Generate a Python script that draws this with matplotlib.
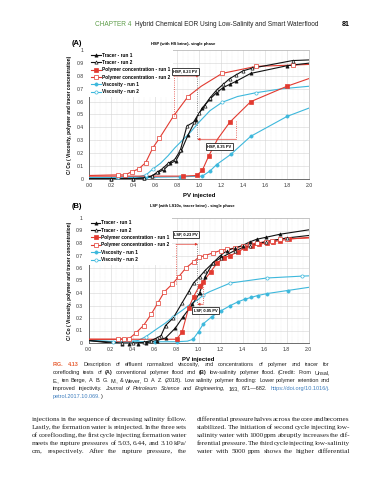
import matplotlib
matplotlib.use("Agg")
import matplotlib.pyplot as plt
from matplotlib.lines import Line2D
from matplotlib.ticker import MultipleLocator, FuncFormatter

plt.rcParams['font.family'] = ['Liberation Sans', 'DejaVu Sans']

labels = ['Tracer - run 1', 'Tracer - run 2',
          'Polymer concentration - run 1', 'Polymer concentration - run 2',
          'Viscosity - run 1', 'Viscosity - run 2']

# ---- (A) HSP (with HS brine) ----
tracer1_a_x = [0, 0.2, 0.4, 0.5, 0.57, 0.63, 0.68, 0.74, 0.79, 0.84, 0.90, 0.97, 1.03, 1.10, 1.16, 1.22, 1.28, 1.34, 1.47, 1.80, 2.0]
tracer1_a_y = [0, 0, 0, 0.005, 0.02, 0.05, 0.07, 0.12, 0.14, 0.22, 0.34, 0.46, 0.55, 0.62, 0.67, 0.71, 0.735, 0.76, 0.82, 0.88, 0.90]
tracer2_a_x = [0, 0.2, 0.4, 0.5, 0.57, 0.62, 0.67, 0.72, 0.78, 0.83, 0.89, 0.95, 1.0, 1.05, 1.10, 1.16, 1.22, 1.28, 1.34, 1.40, 1.48, 1.85, 2.0]
tracer2_a_y = [0, 0, 0, 0.005, 0.02, 0.05, 0.08, 0.12, 0.15, 0.22, 0.41, 0.44, 0.51, 0.57, 0.63, 0.69, 0.735, 0.78, 0.81, 0.84, 0.86, 0.92, 0.925]
polymer1_a_x = [0, 0.25, 0.5, 0.85, 0.98, 1.03, 1.09, 1.17, 1.28, 1.47, 1.80, 2.0]
polymer1_a_y = [0.02, 0.02, 0.02, 0.02, 0.025, 0.065, 0.18, 0.31, 0.44, 0.60, 0.72, 0.78]
polymer2_a_x = [0, 0.26, 0.33, 0.39, 0.45, 0.515, 0.58, 0.64, 0.77, 0.90, 1.02, 1.21, 1.52, 1.85, 2.0]
polymer2_a_y = [0.025, 0.03, 0.03, 0.055, 0.075, 0.125, 0.24, 0.315, 0.49, 0.64, 0.72, 0.82, 0.875, 0.885, 0.89]
visc1_a_x = [0, 0.25, 0.52, 0.83, 1.03, 1.10, 1.16, 1.29, 1.47, 1.80, 2.0]
visc1_a_y = [0.01, 0.01, 0.01, 0.015, 0.02, 0.06, 0.11, 0.19, 0.33, 0.485, 0.55]
visc2_a_x = [0, 0.26, 0.45, 0.52, 0.58, 0.65, 0.72, 0.78, 0.85, 0.92, 1.0, 1.1, 1.21, 1.35, 1.52, 1.75, 2.0]
visc2_a_y = [0.005, 0.01, 0.015, 0.03, 0.075, 0.12, 0.18, 0.24, 0.30, 0.36, 0.44, 0.53, 0.595, 0.64, 0.67, 0.70, 0.72]
marks_a = [range(1, 20), range(1, 22), [3, 4, 5, 6, 8, 9, 10],
           [1, 2, 3, 4, 5, 6, 7, 8, 9, 11, 12, 13], range(1, 10), [1, 3, 4, 12, 14]]

# ---- (B) LSP (with LS10x, tracer brine) ----
tracer1_b_x = [0, 0.3, 0.37, 0.45, 0.52, 0.62, 0.70, 0.79, 0.86, 0.945, 1.01, 1.06, 1.13, 1.2, 1.26, 1.33, 1.40, 1.47, 1.53, 1.61, 1.74, 2.0]
tracer1_b_y = [0.02, -0.01, -0.01, -0.01, 0.0, 0.02, 0.04, 0.12, 0.21, 0.31, 0.40, 0.53, 0.64, 0.70, 0.74, 0.76, 0.78, 0.81, 0.83, 0.845, 0.87, 0.905]
tracer2_b_x = [0, 0.3, 0.4, 0.5, 0.57, 0.62, 0.66, 0.70, 0.77, 0.85, 0.91, 0.955, 1.01, 1.06, 1.13, 1.2, 1.33, 1.47, 1.61, 1.8, 2.0]
tracer2_b_y = [0.02, 0.0, 0.0, 0.005, 0.02, 0.04, 0.06, 0.14, 0.20, 0.32, 0.41, 0.48, 0.53, 0.58, 0.64, 0.68, 0.74, 0.78, 0.81, 0.84, 0.86]
polymer1_b_x = [0, 0.3, 0.6, 0.8, 0.85, 0.91, 0.955, 1.01, 1.045, 1.11, 1.17, 1.23, 1.29, 1.36, 1.42, 1.49, 1.55, 1.62, 1.68, 1.74, 1.82, 2.0]
polymer1_b_y = [0.03, 0.03, 0.03, 0.03, 0.085, 0.28, 0.37, 0.46, 0.49, 0.57, 0.64, 0.68, 0.70, 0.73, 0.76, 0.775, 0.79, 0.80, 0.81, 0.82, 0.83, 0.845]
polymer2_b_x = [0, 0.27, 0.32, 0.37, 0.43, 0.5, 0.57, 0.63, 0.69, 0.76, 0.82, 0.885, 0.955, 1.0, 1.06, 1.13, 1.2, 1.26, 1.33, 1.40, 1.47, 1.53, 1.61, 1.67, 1.74, 1.80, 2.0]
polymer2_b_y = [0.03, 0.03, 0.035, 0.035, 0.08, 0.14, 0.23, 0.32, 0.41, 0.47, 0.53, 0.60, 0.65, 0.685, 0.70, 0.72, 0.74, 0.75, 0.76, 0.775, 0.79, 0.80, 0.81, 0.82, 0.83, 0.835, 0.84]
visc1_b_x = [0, 0.3, 0.6, 0.8, 0.9, 0.95, 1.0, 1.045, 1.12, 1.2, 1.29, 1.36, 1.42, 1.48, 1.54, 1.62, 1.81, 2.0]
visc1_b_y = [0.02, 0.01, 0.01, 0.01, 0.015, 0.03, 0.09, 0.155, 0.21, 0.255, 0.30, 0.33, 0.35, 0.365, 0.38, 0.395, 0.42, 0.445]
visc2_b_x = [0, 0.22, 0.35, 0.45, 0.52, 0.6, 0.7, 0.77, 0.85, 0.925, 1.0, 1.045, 1.1, 1.29, 1.62, 1.94, 2.0]
visc2_b_y = [0.02, 0.01, 0.01, 0.02, 0.05, 0.10, 0.16, 0.21, 0.26, 0.31, 0.35, 0.385, 0.41, 0.48, 0.52, 0.535, 0.537]
marks_b = [range(1, 21), range(1, 20), range(3, 21), range(1, 26),
           [2, 3, 5, 6, 7, 8, 9, 10, 11, 12, 13, 14, 15, 16], [1, 4, 7, 11, 13, 14, 15]]

RED = '#e23a30'
CYAN = '#3db8dc'
BLACK = '#111111'
STYLES = [(BLACK, '^', True), (BLACK, '^', False), (RED, 's', True),
          (RED, 's', False), (CYAN, 'o', True), (CYAN, 'o', False)]

W, H = 389, 480
fig = plt.figure(figsize=(W / 100, H / 100), dpi=100)


def fx(px):
    return px / W


def fy(py):
    return 1 - py / H


def draw_panel(ax, xs, ys, marks):
    for i in [4, 5, 2, 3, 0, 1]:
        color, marker, filled = STYLES[i]
        ax.plot(xs[i], ys[i], color=color, lw=0.8, zorder=3)
        mx = [xs[i][k] for k in marks[i]]
        my = [ys[i][k] for k in marks[i]]
        ax.plot(mx, my, ls='none', marker=marker, ms=2.3, mew=0.5, mec=color,
                mfc=color if filled else 'white', zorder=4, clip_on=False)
    ax.set_xlim(0, 2)
    ax.set_ylim(0, 1)
    ax.xaxis.set_major_locator(MultipleLocator(0.2))
    ax.xaxis.set_minor_locator(MultipleLocator(0.05))
    ax.yaxis.set_major_locator(MultipleLocator(0.1))
    ax.xaxis.set_major_formatter(FuncFormatter(lambda v, p: '%.1f' % v))
    ax.yaxis.set_major_formatter(FuncFormatter(lambda v, p: '%g' % round(v, 1)))
    ax.grid(True, which='major', color='#d4d4d4', lw=0.4)
    ax.grid(True, which='minor', axis='x', color='#dddddd', lw=0.3, ls=':')
    ax.set_axisbelow(True)
    ax.tick_params(which='both', length=0, labelsize=3.7, labelcolor='#333333')
    ax.tick_params(axis='x', pad=3)
    ax.tick_params(axis='y', pad=4)
    for s in ['left', 'bottom']:
        ax.spines[s].set_color('#555555')
        ax.spines[s].set_linewidth(0.6)
    for s in ['top', 'right']:
        ax.spines[s].set_color('#aaaaaa')
        ax.spines[s].set_linewidth(0.4)
    ax.set_xlabel('PV injected', fontsize=4.3, fontweight='bold')
    ax.xaxis.set_label_coords(0.5, -0.11)
    ax.set_ylabel('C/ Co ( Viscosity, polymer and tracer concentration)',
                  fontsize=3.4, fontweight='bold')
    ax.yaxis.set_label_coords(-0.075, 0.5)
    handles = []
    for (color, marker, filled), lab in zip(STYLES, labels):
        handles.append(Line2D([], [], color=color, lw=0.8, marker=marker, ms=2.3, mew=0.5,
                              mec=color, mfc=color if filled else 'white', label=lab))
    leg = ax.legend(handles=handles, loc='upper left', bbox_to_anchor=(0, 1), borderaxespad=0,
                    frameon=True, fancybox=False, framealpha=1, facecolor='white',
                    edgecolor='none', prop=dict(size=3.4, weight='bold'), handlelength=2.0,
                    handletextpad=0.25, labelspacing=0.5, borderpad=0.5)
    leg.set_zorder(5)


def delay(ax, x_start, x_end, y, y_mark):
    # dotted drop from the curve point, solid arrow across the delay
    ax.plot([x_start, x_start], [y_mark, y], ls=':', color=RED, lw=0.6, zorder=6)
    ax.annotate('', xy=(x_end, y), xytext=(x_start, y),
                arrowprops=dict(arrowstyle='-|>', color=RED, lw=0.5, mutation_scale=3.5,
                                shrinkA=0, shrinkB=0), zorder=6)


def box(ax, x, y, text):
    ax.text(x, y, text, fontsize=2.9, fontweight='bold', ha='center', va='center', zorder=7,
            bbox=dict(boxstyle='square,pad=0.35', fc='white', ec='#222222', lw=0.6))


# ---- panel A ----
axA = fig.add_axes([fx(89), fy(178.7), 220 / W, 128.4 / H])
draw_panel(axA,
           [tracer1_a_x, tracer2_a_x, polymer1_a_x, polymer2_a_x, visc1_a_x, visc2_a_x],
           [tracer1_a_y, tracer2_a_y, polymer1_a_y, polymer2_a_y, visc1_a_y, visc2_a_y],
           marks_a)
delay(axA, 0.77, 1.0, 0.80, 0.49)
axA.plot([0.985, 0.985], [0.80, 0.307], ls=':', color='#666666', lw=0.6, zorder=6)
delay(axA, 1.34, 0.985, 0.307, 0.45)
box(axA, 0.875, 0.835, 'HSP, 0.23 PV')
box(axA, 1.185, 0.25, 'HSP, 0.35 PV')

# ---- panel B ----
axB = fig.add_axes([fx(88.5), fy(343), 220 / W, 125 / H])
draw_panel(axB,
           [tracer1_b_x, tracer2_b_x, polymer1_b_x, polymer2_b_x, visc1_b_x, visc2_b_x],
           [tracer1_b_y, tracer2_b_y, polymer1_b_y, polymer2_b_y, visc1_b_y, visc2_b_y],
           marks_b)
delay(axB, 0.795, 0.995, 0.79, 0.47)
axB.plot([0.99, 0.99], [0.79, 0.31], ls=':', color='#666666', lw=0.6, zorder=6)
delay(axB, 1.045, 0.99, 0.31, 0.49)
box(axB, 0.885, 0.865, 'LSP, 0.23 PV')
box(axB, 1.065, 0.262, 'LSP, 0.05 PV')

# ---- titles ----
fig.text(fx(72), fy(43.5), '(A)', fontsize=5.4, fontweight='bold', va='center')
fig.text(fx(183), fy(43.5), 'HSP (with HS brine)- single phase', fontsize=2.9,
         fontweight='bold', ha='center', va='center')
fig.text(fx(72), fy(206.5), '(B)', fontsize=5.4, fontweight='bold', va='center')
fig.text(fx(192), fy(206.5), 'LSP (with LS10x, tracer brine) - single phase', fontsize=2.9,
         fontweight='bold', ha='center', va='center')

# ---- page header ----
fig.text(fx(95), fy(24), 'CHAPTER 4', fontsize=4.7, color='#5e9e4a', va='center')
fig.text(fx(135), fy(24), 'Hybrid Chemical EOR Using Low-Salinity and Smart Waterflood',
         fontsize=4.7, color='#222222', va='center')
fig.text(fx(350), fy(24), '81', fontsize=5.0, fontweight='bold', ha='right', va='center')

renderer = fig.canvas.get_renderer()


def put_line(words, x0, x1, y, size, family, justify=True, gap=None):
    # y is the baseline in pixels from the top
    arts, widths = [], []
    for w, props in words:
        t = fig.text(0, fy(y), w, fontsize=size, family=family, va='baseline', ha='left', **props)
        arts.append(t)
        widths.append(t.get_window_extent(renderer=renderer).width)
    if gap is None:
        if justify and len(arts) > 1:
            gap = (x1 - x0 - sum(widths)) / (len(arts) - 1)
        else:
            gap = size * 0.28 * 100 / 72
    x = x0
    for t, wd in zip(arts, widths):
        t.set_x(fx(x))
        x += wd + gap


def words_of(segments):
    out = []
    for text, props in segments:
        for w in text.split():
            out.append((w, props))
    return out


ORANGE = '#e8643a'
LINK = '#3f7fbf'
plain = {'color': '#222222'}
bold = {'color': '#222222', 'fontweight': 'bold'}
ital = {'color': '#222222', 'style': 'italic'}

caption = [
    [('FIG. 4.13', {'color': ORANGE, 'fontweight': 'bold'}),
     ('Description of effluent normalized viscosity, and concentrations of polymer and tracer for', plain)],
    [('corefloding tests of', plain), ('(A)', bold), ('conventional polymer flood and', plain),
     ('(B)', bold), ('low-salinity polymer flood. (Credit: From Unsal,', plain)],
    [('E., ten Berge, A. B. G. M., & Wever, D. A. Z. (2018). Low salinity polymer flooding: Lower polymer retention and', plain)],
    [('improved injectivity.', plain), ('Journal of Petroleum Science and Engineering,', ital),
     ('163, 671\u2014682.', plain), ('https://doi.org/10.1016/j.', {'color': LINK})],
]
cap_sans = ['Liberation Sans', 'DejaVu Sans']
for i, seg in enumerate(caption):
    put_line(words_of(seg), 53, 330, 366.3 + 7.85 * i, 4.0, cap_sans)
put_line([('petrol.2017.10.069.', {'color': LINK}), (')', plain)], 53, 330, 366.3 + 7.85 * 4,
         4.0, cap_sans, justify=False, gap=0)

left_col = [
    'injections in the sequence of decreasing salinity follow.',
    'Lastly, the formation water is reinjected. In the three sets',
    'of coreflooding, the first cycle injecting formation water',
    'meets the rupture pressures of 5.03, 6.44, and 3.10 kPa/',
    'cm, respectively. After the rupture pressure, the',
]
right_col = [
    'differential pressure halves across the core and becomes',
    'stabilized. The initiation of second cycle injecting low-',
    'salinity water with 1000 ppm abruptly increases the dif-',
    'ferential pressure. The third cycle injecting low-salinity',
    'water with 5000 ppm shows the higher differential',
]
serif = ['Liberation Serif', 'DejaVu Serif']
for i, line in enumerate(left_col):
    put_line(words_of([(line, plain)]), 32, 187, 421 + 7.95 * i, 5.2, serif)
for i, line in enumerate(right_col):
    put_line(words_of([(line, plain)]), 197, 350, 421 + 7.95 * i, 5.2, serif)

fig.savefig('out.png', dpi=100)
